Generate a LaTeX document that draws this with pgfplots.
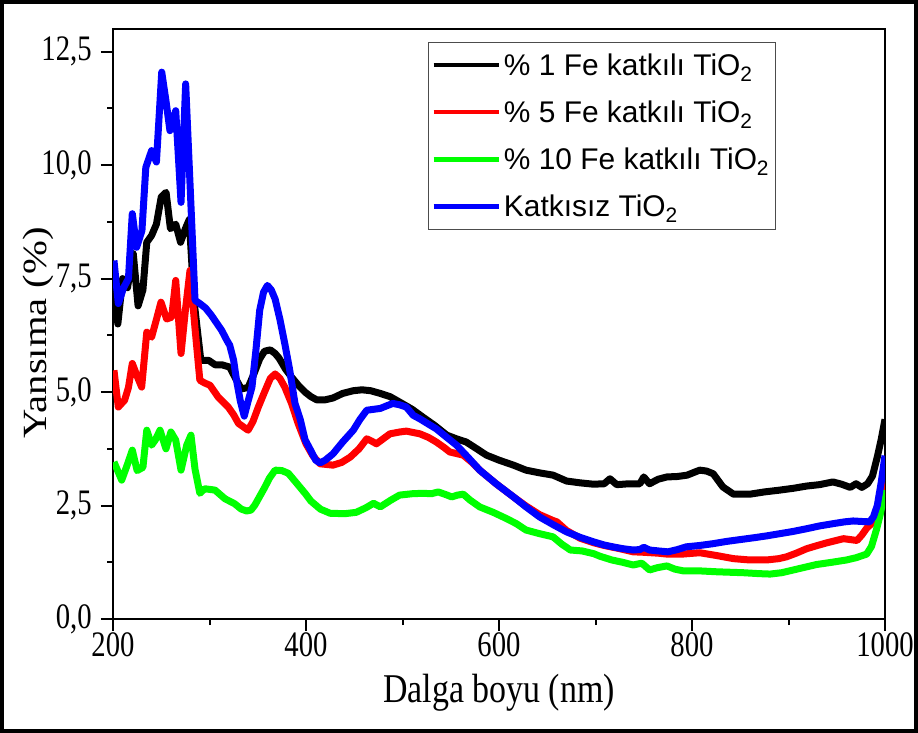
\documentclass[border=0pt]{standalone}
\usepackage{fontspec}
\setmainfont[FakeStretch=0.8]{Liberation Serif}
\newfontfamily\labelfont[FakeStretch=0.83]{Liberation Serif}
\newfontfamily\ylabelfont[FakeStretch=1.2]{Liberation Serif}
\newfontfamily\legendfont{Liberation Sans}
\usepackage{pgfplots}
\pgfplotsset{compat=1.18}

\pgfplotstableread{
x y
201 7.75
205 6.5
210 7.5
215 7.3
221 8.05
226 6.9
231 7.25
235 8.3
240 8.45
245 8.7
250 9.3
255 9.4
259.5 8.6
265 8.7
270 8.3
275 8.6
279 8.8
284 7.0
291 5.7
299 5.7
306 5.6
313 5.6
321 5.55
327 5.3
333 5.07
340 5.1
346 5.4
352 5.73
357 5.9
363 5.93
368 5.85
372 5.75
379 5.5
385 5.33
392 5.15
399 5.0
405 4.9
411 4.83
420 4.83
428 4.87
438 4.97
449 5.03
458 5.05
467 5.03
477 4.97
487 4.9
497 4.78
510 4.62
521 4.45
533 4.27
546 4.05
556 3.97
566 3.9
577 3.75
587 3.61
600 3.5
615 3.39
628 3.28
642 3.22
656 3.17
670 3.04
684 3.0
698 2.97
709 2.98
715 3.09
722 2.96
735 2.98
746 2.98
750 3.13
756 2.98
765 3.08
774 3.13
785 3.14
795 3.17
808 3.28
815 3.26
822 3.2
832 2.91
843 2.75
860 2.75
875 2.8
891 2.84
905 2.88
919 2.93
932 2.96
946 3.02
955 2.97
964 2.90
970 2.98
976 2.90
982 2.98
987 3.15
992 3.57
996 3.95
1000 4.4
}\feone

\pgfplotstableread{
x y
201 5.48
205.5 4.67
212 4.82
216 5.1
220 5.63
225 5.35
229.7 5.11
235 6.32
240 6.21
245 6.6
249.7 6.98
255.6 6.61
260.8 6.65
265 7.46
270.5 5.85
275 6.8
279.8 7.68
285 6.4
290 5.26
295 5.2
300.5 5.15
309 4.89
319.4 4.67
325 4.5
330 4.31
340 4.16
345 4.35
350.6 4.67
357 5.0
363 5.3
368 5.4
373 5.3
378 5.11
385 4.75
392 4.3
400 3.86
407 3.6
414.5 3.42
428 3.39
437 3.45
446 3.57
455 3.75
463 3.97
468 3.92
473 3.86
480 3.97
487 4.08
497 4.12
504 4.14
518 4.08
527 4.0
535 3.9
543 3.78
549 3.68
563 3.61
572 3.45
580 3.28
597 2.98
615 2.69
628 2.49
642 2.3
656 2.17
660 2.14
670 1.95
684 1.78
698 1.68
709 1.62
725 1.55
739 1.48
750 1.47
765 1.45
774 1.43
790 1.43
808 1.46
825 1.4
843 1.33
860 1.3
877 1.3
890 1.33
898 1.37
908 1.45
919 1.55
930 1.62
940 1.68
957 1.77
964 1.75
971 1.73
976 1.85
981 2.0
986 2.1
991 2.25
995 2.55
1000 3.06
}\fefive

\pgfplotstableread{
x y
201 3.46
209 3.06
214 3.35
220 3.72
225 3.27
231 3.34
235 4.16
240 3.83
244 3.95
248.7 4.16
254.9 3.75
260 4.12
265 3.94
270.5 3.28
276.4 3.83
280.8 4.05
285 3.3
290 2.77
295 2.87
305.7 2.84
316 2.65
326 2.54
333 2.42
338.6 2.38
343 2.4
347 2.51
352 2.7
357.5 2.91
362 3.1
368 3.28
375 3.27
381.7 3.21
390 3.0
399 2.77
405 2.6
415 2.42
425 2.33
440 2.32
452 2.35
462 2.45
470 2.55
477 2.47
488 2.62
497 2.73
510 2.76
521 2.77
530 2.76
537 2.8
545 2.74
551 2.69
557 2.73
563 2.75
570 2.62
580 2.47
594 2.35
608 2.21
618 2.1
628 1.96
642 1.88
656 1.81
665 1.65
674 1.52
686 1.5
698 1.44
705 1.38
717 1.30
728 1.25
739 1.19
748 1.23
756 1.08
764 1.13
774 1.17
782 1.1
791 1.06
808 1.06
826 1.04
853 1.02
869 1.0
881 0.99
893 1.02
905 1.08
917 1.14
929 1.2
945 1.25
960 1.3
970 1.35
981 1.43
986 1.6
991 1.96
995 2.3
1000 2.84
}\feten

\pgfplotstableread{
x y
201 7.9
205.5 6.95
211 7.3
216 7.5
220 8.93
224.5 8.19
230 8.56
234 9.95
240 10.32
245 10.07
250.5 12.05
255 11.4
259 10.76
265 11.2
270.5 9.18
275.3 11.79
280 9.5
285 7.02
290 6.95
296 6.85
302 6.69
312.6 6.36
318 6.14
321 6.03
325 5.7
328 5.26
332 4.8
336 4.47
340 4.8
344 5.11
348 5.9
352 6.8
356 7.2
360 7.35
364 7.25
368 7.05
373 6.6
378 6.07
383 5.5
388.6 4.75
394 4.4
399 3.95
404 3.75
410 3.5
414.5 3.44
420 3.5
428 3.64
438 3.9
449 4.16
456 4.4
463 4.6
470 4.62
477 4.64
484 4.7
490 4.75
497 4.72
504 4.67
511 4.49
518 4.41
528 4.28
535 4.19
546 4.0
556 3.83
568 3.56
580 3.28
597 2.98
615 2.69
628 2.47
642 2.25
656 2.08
670 1.92
684 1.8
698 1.7
709 1.63
718 1.59
728 1.55
739 1.52
746 1.53
750 1.58
756 1.52
765 1.5
775 1.48
785 1.53
794 1.59
808 1.62
822 1.66
836 1.71
850 1.75
864 1.79
877 1.83
891 1.88
905 1.93
919 1.99
932 2.05
946 2.1
958 2.14
967 2.16
975 2.15
984 2.14
988 2.25
992 2.5
996 3.0
1000 3.6
}\pure

\begin{document}
\begin{tikzpicture}
% outer frame of the figure
\draw[line width=4bp] (2bp,2bp) rectangle (916bp,731bp);
\begin{axis}[
  at={(113bp,114bp)}, anchor=south west,
  scale only axis, width=772bp, height=590bp,
  xmin=200, xmax=1000, ymin=0, ymax=13,
  xtick={200,400,600,800,1000}, minor xtick={300,500,700,900},
  ytick={0,2.5,5,7.5,10,12.5}, minor ytick={1.25,3.75,6.25,8.75,11.25},
  tick pos=left, tick align=outside,
  major tick length=12bp, minor tick length=6bp,
  tick style={line width=2bp, black},
  line width=2bp,
  scaled ticks=false,
  /pgf/number format/assume math mode=true,
  ticklabel style={font=\fontsize{36}{36}\selectfont},
  xticklabel style={/pgf/number format/1000 sep={}, yshift=3bp},
  yticklabel style={/pgf/number format/fixed, /pgf/number format/fixed zerofill,
    /pgf/number format/precision=1, /pgf/number format/use comma, xshift=-5bp},
  xlabel={Dalga boyu (nm)},
  ylabel={Yansıma (\%)},
  xlabel style={font=\labelfont\fontsize{41}{41}\selectfont,
    at={(axis description cs:0.5,-0.141)}, anchor=base},
  ylabel style={font=\ylabelfont\fontsize{34}{34}\selectfont,
    at={(axis description cs:-0.0855,0.485)}, anchor=base},
  legend cell align=left,
  legend image code/.code={\draw[#1, line width=4.5bp] (0bp,0bp) -- (65bp,0bp);},
  legend style={at={(axis description cs:0.408,0.978)}, anchor=north west,
    draw=black!70, line width=1bp, inner xsep=3bp, inner ysep=8bp,
    nodes={inner sep=3bp},
    font=\legendfont\fontsize{30}{30}\selectfont,
    row sep=18bp},
]
\addplot[black, line width=7bp, line join=round, no marks] table {\feone};
\addplot[red, line width=7bp, line join=round, no marks] table {\fefive};
\addplot[color={rgb,255:red,0;green,255;blue,0}, line width=7bp, line join=round, no marks] table {\feten};
\addplot[blue, line width=7bp, line join=round, no marks] table {\pure};
\legend{\% 1 Fe katkılı TiO\textsubscript{2},
        \% 5 Fe katkılı TiO\textsubscript{2},
        \% 10 Fe katkılı TiO\textsubscript{2},
        Katkısız TiO\textsubscript{2}}
\end{axis}
\end{tikzpicture}
\end{document}
